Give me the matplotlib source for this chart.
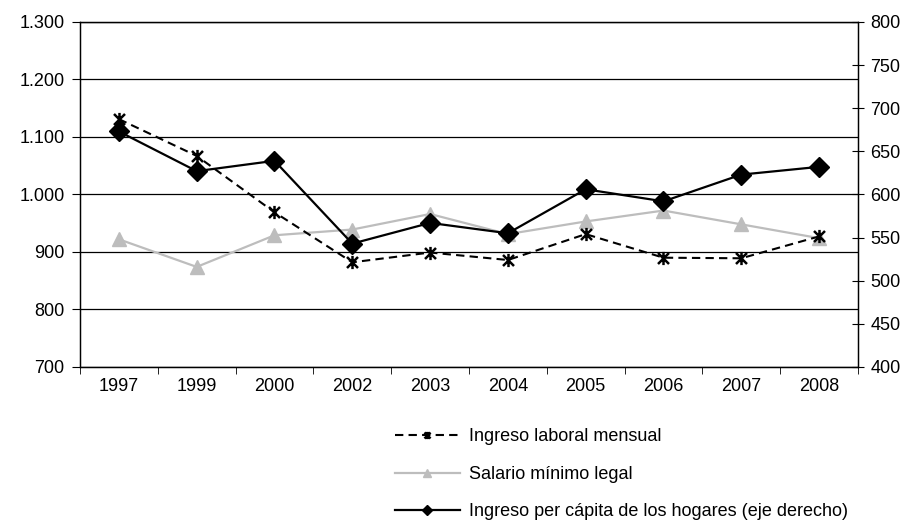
import numpy as np
import matplotlib.pyplot as plt
from matplotlib.path import Path

years = ["1997", "1999", "2000", "2002", "2003", "2004", "2005", "2006", "2007", "2008"]
ingreso_laboral = [1131, 1067, 969, 882, 899, 886, 931, 890, 889, 927]
salario_minimo = [922, 874, 929, 939, 966, 931, 953, 972, 948, 924]
ingreso_per_capita = [673, 627, 639, 543, 567, 555, 606, 592, 623, 632]

left_ticks = [700, 800, 900, 1000, 1100, 1200, 1300]
left_labels = ["700", "800", "900", "1.000", "1.100", "1.200", "1.300"]
right_ticks = [400, 450, 500, 550, 600, 650, 700, 750, 800]

plt.rcParams['font.family'] = ['Liberation Sans', 'DejaVu Sans']
plt.rcParams['font.size'] = 13

# asterisk marker: an x with a vertical bar
star = Path([(-1, -1), (1, 1), (-1, 1), (1, -1), (0, -1.2), (0, 1.2)],
            [Path.MOVETO, Path.LINETO, Path.MOVETO, Path.LINETO, Path.MOVETO, Path.LINETO])

fig = plt.figure(figsize=(9.06, 5.22), dpi=100)
ax = fig.add_axes([0.0883, 0.297, 0.8587, 0.661])
ax2 = ax.twinx()

x = np.arange(len(years))
l1, = ax.plot(x, ingreso_laboral, color="black", lw=1.5, ls=(0, (4, 2.5)),
              marker=star, ms=9.5, mew=1.8, mec="black", zorder=3)
l2, = ax.plot(x, salario_minimo, color="#bdbdbd", lw=1.6, marker="^", ms=10,
              mec="#bdbdbd", zorder=2)
l3, = ax2.plot(x, ingreso_per_capita, color="black", lw=1.6, marker="D", ms=10,
               zorder=4)

ax.set_xlim(-0.5, len(years) - 0.5)
ax.set_ylim(700, 1300)
ax2.set_ylim(400, 800)
ax.set_yticks(left_ticks)
ax.set_yticklabels(left_labels)
ax2.set_yticks(right_ticks)
ax.set_xticks(x)
ax.set_xticklabels(years)
ax.set_xticks(np.arange(-0.5, len(years)), minor=True)
ax.tick_params(axis="x", which="major", length=0, pad=8)
ax.tick_params(axis="x", which="minor", length=5, direction="out")
ax.tick_params(axis="y", length=6, direction="out", pad=5)
ax2.tick_params(axis="y", length=8, direction="inout", pad=5)
ax.grid(axis="y", color="black", lw=0.9)
ax.set_axisbelow(True)
for a in (ax, ax2):
    for s in a.spines.values():
        s.set_linewidth(0.9)

fig.legend([l1, l2, l3],
           ["Ingreso laboral mensual", "Salario mínimo legal",
            "Ingreso per cápita de los hogares (eje derecho)"],
           loc="upper left", bbox_to_anchor=(0.428, 0.193), frameon=False,
           handlelength=3.6, labelspacing=1.13, markerscale=0.55, fontsize=13,
           handletextpad=0.5, borderaxespad=0)

fig.savefig("out.png", dpi=100)
